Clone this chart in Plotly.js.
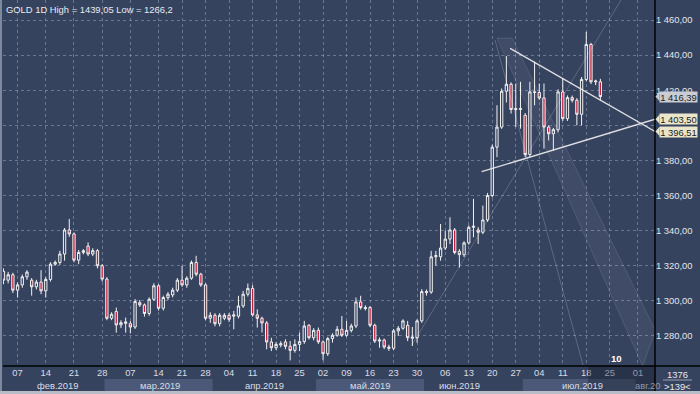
<!DOCTYPE html>
<html><head><meta charset="utf-8">
<script src="https://cdn.plot.ly/plotly-3.0.1.min.js"></script>
<style>html,body{margin:0;padding:0;background:#36435f;}#chart{width:700px;height:394px;}</style>
</head><body><div id="chart"></div>
<script>
// ---- data ----
const openP = [1316.8,1311.8,1314.9,1306.1,1309.1,1313.7,1311.8,1308.0,1310.7,1305.7,
1312.2,1320.9,1321.9,1326.7,1340.4,1338.1,1323.2,1327.6,1331.2,1326.7,
1328.6,1320.0,1312.4,1290.1,1293.9,1286.3,1287.2,1287.0,1285.1,1299.0,
1297.7,1292.8,1300.9,1308.6,1295.8,1301.9,1303.4,1306.1,1311.8,1309.1,
1312.9,1321.9,1315.2,1309.1,1290.1,1291.8,1287.0,1290.1,1291.8,1291.3,
1291.3,1297.1,1303.8,1307.1,1292.0,1290.1,1287.4,1276.6,1273.3,1274.9,
1276.6,1274.1,1271.8,1275.2,1276.8,1286.1,1279.0,1283.2,1276.6,1269.9,
1278.5,1280.4,1283.8,1280.4,1283.2,1285.7,1299.4,1295.6,1296.2,1286.1,
1277.1,1277.7,1273.7,1273.0,1282.9,1284.4,1286.1,1278.7,1279.0,1288.6,
1304.7,1305.0,1325.1,1325.1,1330.1,1335.2,1340.4,1328.2,1326.3,1333.0,
1341.9,1340.4,1339.1,1346.1,1360.0,1387.6,1399.0,1419.4,1423.4,1409.0,
1409.0,1405.7,1383.4,1418.7,1418.7,1415.6,1399.0,1395.2,1397.5,1419.0,
1403.8,1415.8,1414.3,1406.3,1426.1,1446.1,1424.8,1424.8];
const highP = [1318.5,1316.5,1316.0,1310.5,1315.0,1317.5,1313.0,1312.0,1317.5,1313.5,
1322.0,1323.0,1328.5,1341.5,1346.7,1339.0,1329.0,1329.5,1333.3,1330.0,
1329.5,1321.0,1313.5,1293.5,1296.2,1289.0,1290.5,1288.5,1301.0,1300.5,
1298.5,1302.0,1310.0,1309.5,1303.0,1305.0,1307.5,1313.0,1320.0,1314.0,
1323.0,1325.7,1316.0,1310.0,1293.5,1293.0,1293.0,1293.0,1293.0,1294.3,
1302.9,1305.7,1309.9,1309.0,1295.2,1291.0,1288.5,1279.0,1276.5,1277.0,
1278.1,1277.1,1278.1,1281.9,1288.6,1286.7,1284.5,1284.8,1277.5,1279.5,
1281.5,1285.7,1291.4,1288.6,1287.0,1301.9,1302.9,1297.5,1297.0,1287.0,
1279.1,1278.5,1275.0,1284.0,1285.7,1289.5,1288.6,1285.1,1289.5,1306.7,
1306.5,1328.5,1328.5,1343.8,1340.0,1347.6,1341.5,1329.5,1334.0,1343.0,
1358.1,1342.0,1354.3,1361.5,1389.0,1411.4,1421.0,1439.4,1424.5,1423.8,
1424.8,1407.0,1424.8,1436.2,1423.8,1423.8,1400.0,1398.5,1420.5,1426.7,
1417.0,1417.0,1415.5,1427.5,1453.3,1447.0,1426.0,1426.5];
const lowP = [1309.5,1310.0,1304.5,1301.9,1307.5,1312.0,1303.0,1306.5,1303.8,1301.9,
1311.0,1320.0,1320.5,1322.9,1336.5,1322.0,1320.9,1326.5,1325.5,1325.5,
1318.5,1311.0,1289.0,1289.0,1281.9,1284.5,1281.9,1281.5,1284.0,1296.5,
1291.0,1291.5,1300.0,1294.5,1294.5,1300.5,1302.0,1305.0,1308.0,1307.5,
1312.0,1314.0,1308.0,1289.0,1287.5,1285.5,1285.5,1289.0,1288.0,1283.8,
1290.0,1296.0,1302.5,1291.0,1284.8,1282.0,1272.4,1271.4,1272.0,1273.5,
1272.4,1266.1,1270.5,1271.4,1275.5,1278.0,1277.5,1275.5,1266.2,1268.6,
1276.2,1279.5,1279.5,1279.5,1282.0,1284.5,1295.0,1294.5,1285.0,1276.0,
1273.3,1272.5,1271.5,1272.0,1280.0,1283.5,1277.1,1274.3,1276.2,1287.5,
1303.0,1304.0,1320.0,1322.9,1329.0,1332.4,1326.5,1319.0,1325.0,1332.0,
1336.2,1332.4,1338.0,1345.0,1359.0,1381.9,1398.0,1413.0,1406.7,1399.0,
1398.1,1381.9,1382.0,1411.4,1414.5,1386.7,1391.4,1385.7,1396.0,1402.5,
1402.5,1413.0,1400.0,1400.0,1425.0,1423.5,1422.9,1414.3];
const closeP = [1311.8,1314.9,1306.1,1309.1,1313.7,1316.4,1308.0,1310.7,1305.7,1312.2,
1320.9,1321.9,1326.7,1340.4,1338.1,1323.2,1327.6,1328.6,1326.7,1328.6,
1320.0,1312.4,1290.1,1292.4,1286.3,1287.6,1288.0,1285.1,1299.6,1297.7,
1292.8,1300.9,1308.6,1295.8,1301.9,1303.8,1306.1,1311.8,1309.1,1312.9,
1321.9,1315.2,1309.1,1290.1,1291.8,1287.0,1291.8,1291.8,1289.5,1292.0,
1297.1,1303.8,1307.1,1292.0,1290.1,1287.4,1276.6,1273.3,1275.2,1275.6,
1274.1,1271.8,1275.2,1276.8,1285.7,1279.0,1283.2,1276.6,1269.9,1278.5,
1280.4,1283.8,1280.4,1283.2,1285.7,1299.4,1296.2,1296.2,1286.1,1277.1,
1277.7,1273.7,1273.0,1282.9,1284.4,1288.6,1279.0,1279.4,1288.6,1305.3,
1305.3,1325.1,1325.8,1330.1,1335.2,1340.4,1327.6,1326.3,1333.0,1341.9,
1342.5,1339.1,1346.1,1360.0,1387.6,1399.0,1419.4,1423.4,1409.0,1409.5,
1409.5,1383.4,1419.05,1419.0,1415.6,1399.0,1395.2,1397.5,1419.05,1403.8,
1415.8,1414.3,1406.3,1426.1,1446.1,1424.8,1425.2,1416.39];

const tickIdx = [3,9,15,21,27,33,38,43,48,53,58,63,68,73,78,83,88,94,99,104,109,114,119,124,129,135];
const tickLabels = ['07','14','21','28','07','14','21','28','04','11','18','25','02','09','16','23','30','06','13','20','27','04','11','18','25','01'];
const monthLabels = ['фев.2019','мар.2019','апр.2019','май.2019','июн.2019','июл.2019','авг.20'];
const monthLabelIdx = [11.4,33.3,55.6,78.0,97.1,123.3,133.9];
const monthStart = [-1,21.5,44.5,66.5,89.5,110.5,134.5];
const monthEnd   = [21.5,44.5,66.5,89.5,110.5,134.5,140];
const priceTicks = [1280,1300,1320,1340,1360,1380,1400,1420,1440,1460];
const hiddenPriceTicks = [1400]; // covered by the price tags in the reference

// drawn trend lines (bar index, price)
const trendDownX = [107.8,138.62], trendDownY = [1443.9,1396.51];
const trendUpX = [101.75,138.62], trendUpY = [1373.6,1403.50];
const fanUpX = [86.9,131.4], fanUpY = [1274.9,1471.4];
const fanDownX = [104.6,123.3], fanDownY = [1448.6,1263.5];
const chanX = [105.0,108.2,138.7,136.0], chanY = [1449.7,1449.7,1283.0,1262.9];

const lastPrice = 1416.39;
const tagPrices = [1403.50,1396.51];
const titleText = 'GOLD 1D High = 1439,05 Low = 1266,2';
const cornerTop = '1376', cornerBottom = '>139<';
const timerText = '10';

// ---- layout ----
const BG = '#36435f';
const W = 700, H = 394, ML = 3, MR = 45, MT = 0, MB = 28;
const PW = W - ML - MR, PH = H - MT - MB;
const XMIN = -0.1, XMAX = XMIN + PW / 4.7;
const YMIN = 1262.9, YMAX = 1471.4;
const px2paperX = p => (p - ML) / PW;
const px2paperY = p => (PH - p) / PH;
const fmtPrice = v => v.toFixed(2).replace('.', ',').replace(/^(\d)(\d{3})/, '$1 $2');

const idx = openP.map((_, i) => i);
const FONT = 'Liberation Sans, Arial, sans-serif';

const traces = [
  {type:'scatter', x:chanX.concat([chanX[0]]), y:chanY.concat([chanY[0]]), mode:'lines', fill:'toself',
   fillcolor:'rgba(255,255,255,0.05)', line:{width:0.8,color:'rgba(255,255,255,0.14)'}, hoverinfo:'skip'},
  {type:'scatter', x:fanUpX, y:fanUpY, mode:'lines', line:{width:1,color:'rgba(255,255,255,0.2)'}, hoverinfo:'skip'},
  {type:'scatter', x:fanDownX, y:fanDownY, mode:'lines', line:{width:1,color:'rgba(255,255,255,0.2)'}, hoverinfo:'skip'},
  {type:'candlestick', x:idx, open:openP, high:highP, low:lowP, close:closeP, whiskerwidth:0,
   increasing:{line:{color:'#f2f2f2',width:1}, fillcolor:BG},
   decreasing:{line:{color:'#f2f2f2',width:1}, fillcolor:'#c01e3e'}, hoverinfo:'skip'},
  {type:'scatter', x:trendDownX, y:trendDownY, mode:'lines', line:{width:1.4,color:'rgba(240,240,240,0.9)'}, hoverinfo:'skip'},
  {type:'scatter', x:trendUpX, y:trendUpY, mode:'lines', line:{width:1.4,color:'rgba(240,240,240,0.9)'}, hoverinfo:'skip'}
];

const shapes = [];
for (let m = 0; m < monthStart.length; m++) {
  if (m % 2 === 1) {
    shapes.push({type:'rect', xref:'x', yref:'paper', x0:monthStart[m], x1:monthEnd[m],
      y0:px2paperY(391), y1:px2paperY(379), fillcolor:'#4b5877', line:{width:0}, layer:'below'});
  }
}
shapes.push({type:'rect', xref:'x', yref:'paper', x0:124.4, x1:XMAX, y0:px2paperY(391), y1:px2paperY(366),
  fillcolor:'rgba(15,20,35,0.35)', line:{width:0}, layer:'above'});
shapes.push({type:'rect', xref:'paper', yref:'paper', x0:px2paperX(0), x1:px2paperX(2), y0:px2paperY(394), y1:1,
  fillcolor:'#7f889c', line:{width:0}, layer:'above'});
shapes.push({type:'rect', xref:'paper', yref:'paper', x0:px2paperX(0), x1:px2paperX(700), y0:px2paperY(394), y1:px2paperY(391),
  fillcolor:'#b8bcc6', line:{width:0}, layer:'above'});
shapes.push({type:'line', xref:'paper', yref:'paper', x0:px2paperX(3), x1:px2paperX(700), y0:0, y1:0,
  line:{color:'#000000',width:1.5}, layer:'above'});
shapes.push({type:'line', xref:'paper', yref:'paper', x0:1, x1:1, y0:px2paperY(391), y1:1,
  line:{color:'#000000',width:1.5}, layer:'above'});
shapes.push({type:'line', xref:'paper', yref:'paper', x0:px2paperX(663), x1:px2paperX(692), y0:px2paperY(380), y1:px2paperY(380),
  line:{color:'#9aa2b4',width:1}, layer:'above'});
const tagDefs = [[lastPrice,'#c9ccd3',0],[tagPrices[0],'#e9e6cb',0.6],[tagPrices[1],'#e9e6cb',-0.6]];
tagDefs.forEach(([p,c]) => {
  const a = px2paperX(655.5), b = px2paperX(659.5), d = 4.6 / (PH/(YMAX-YMIN));
  shapes.push({type:'path', xref:'paper', yref:'y', path:`M ${a},${p} L ${b},${p+d} L ${b},${p-d} Z`,
    fillcolor:c, line:{width:0}, layer:'above'});
});

const annotations = [];
annotations.push({xref:'paper', yref:'paper', x:px2paperX(4), y:px2paperY(9), xanchor:'left', yanchor:'middle',
  text:titleText, showarrow:false, font:{family:FONT, size:9.4, color:'#e8eaee'}});
for (let m = 0; m < monthLabels.length; m++) {
  const last = m === monthLabels.length - 1;
  annotations.push({xref:'x', yref:'paper', x:monthLabelIdx[m], y:px2paperY(385), xanchor:last?'left':'center', yanchor:'middle',
    text:monthLabels[m], showarrow:false, font:{family:FONT, size:9.4, color:last?'#8f98ab':'#d9dde6'}});
}
tagDefs.forEach(([p,c,s]) => {
  annotations.push({xref:'paper', yref:'y', x:px2paperX(659), y:p, xanchor:'left', yanchor:'middle', yshift:s,
    text:fmtPrice(p), showarrow:false, bgcolor:c, borderpad:0,
    height:10, width:37, font:{family:FONT, size:9.4, color:'#1c1c1c'}});
});
annotations.push({xref:'paper', yref:'paper', x:px2paperX(677), y:px2paperY(374), xanchor:'center', yanchor:'middle',
  text:cornerTop, showarrow:false, font:{family:FONT, size:9.4, color:'#e8eaee'}});
annotations.push({xref:'paper', yref:'paper', x:px2paperX(677), y:px2paperY(386), xanchor:'center', yanchor:'middle',
  text:cornerBottom, showarrow:false, font:{family:FONT, size:9.4, color:'#e8eaee'}});
annotations.push({xref:'x', yref:'paper', x:130.5, y:px2paperY(358), xanchor:'center', yanchor:'middle',
  text:'<b>'+timerText+'</b>', showarrow:false, font:{family:FONT, size:9.6, color:'#ffffff'}});

const layout = {
  width:W, height:H, margin:{l:ML, r:MR, t:MT, b:MB, pad:0},
  paper_bgcolor:BG, plot_bgcolor:BG, showlegend:false, separators:', ',
  xaxis:{range:[XMIN,XMAX], rangeslider:{visible:false}, tickmode:'array', tickvals:tickIdx, ticktext:tickLabels,
    showgrid:true, gridcolor:'rgba(150,162,188,0.55)', griddash:'3px,3px', gridwidth:1, zeroline:false,
    ticks:'', showline:false, automargin:false, fixedrange:true,
    tickfont:{family:FONT, size:9.4, color:'#d9dde6'}},
  yaxis:{range:[YMIN,YMAX], side:'right', tickmode:'array', tickvals:priceTicks,
    ticktext:priceTicks.map(v => hiddenPriceTicks.includes(v) ? '' : fmtPrice(v)),
    showgrid:true, gridcolor:'rgba(150,162,188,0.55)', griddash:'3px,3px', gridwidth:1,
    zeroline:false, ticks:'', showline:false, automargin:false, fixedrange:true,
    tickfont:{family:FONT, size:9.4, color:'#e3e6ec'}},
  shapes:shapes, annotations:annotations
};
Plotly.newPlot('chart', traces, layout, {staticPlot:true, displayModeBar:false});
</script></body></html>
